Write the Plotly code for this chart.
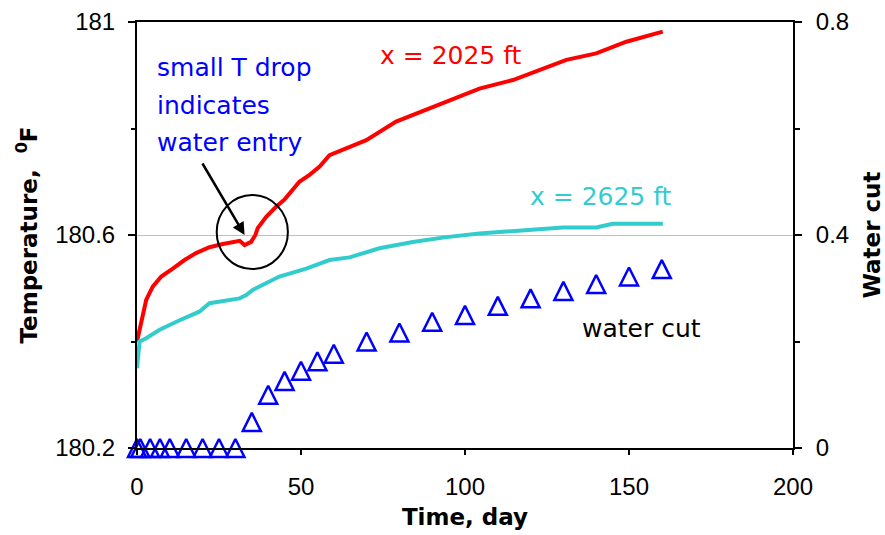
import plotly.graph_objects as go

# --- data -------------------------------------------------------------
red_day = [0, 1.3, 2.8, 4.8, 7.4, 10.9, 14.5, 18, 22.1, 26.2, 31.3, 32.8, 34.8,
           36.1, 36.8, 39.4, 42.4, 44.9, 47.5, 49.5, 52.6, 55.6, 58.7, 69.9, 79.0,
           90.2, 104.4, 114.6, 122.7, 130.9, 140.0, 149.2, 160.3]
red_temp = [180.400, 180.440, 180.478, 180.503, 180.522, 180.537, 180.553, 180.566,
            180.577, 180.583, 180.589, 180.581, 180.587, 180.600, 180.613, 180.634,
            180.653, 180.666, 180.686, 180.700, 180.713, 180.728, 180.750, 180.778,
            180.813, 180.841, 180.875, 180.891, 180.910, 180.929, 180.941, 180.963,
            180.982]

teal_day = [0, 0.8, 2.8, 6.9, 13, 19, 22.1, 28.2, 31.3, 33.3, 35.3, 43.4, 51.6,
            58.7, 64.8, 73.9, 84.1, 94.3, 104.4, 111.5, 129.8, 140, 145, 160.3]
teal_temp = [180.350, 180.400, 180.406, 180.422, 180.440, 180.456, 180.472, 180.478,
             180.481, 180.487, 180.497, 180.522, 180.537, 180.553, 180.558, 180.575,
             180.587, 180.596, 180.603, 180.606, 180.614, 180.614, 180.621, 180.621]

wc_day = [0, 1, 4, 7, 10, 15, 20, 25, 30, 35, 40, 45, 50, 55, 60, 70, 80, 90,
          100, 110, 120, 130, 140, 150, 160]
wc_val = [0, 0, 0, 0, 0, 0, 0, 0, 0, 0.049, 0.100, 0.126, 0.145, 0.163, 0.177,
          0.200, 0.217, 0.237, 0.250, 0.267, 0.281, 0.295, 0.308, 0.322, 0.336]

x_ticks = [0, 50, 100, 150, 200]
temp_ticks = [180.2, 180.6, 181]
temp_labels = ["180.2", "180.6", "181"]
temp_minor = [180.4, 180.8]
wc_ticks = [0, 0.4, 0.8]
wc_labels = ["0", "0.4", "0.8"]
wc_minor = [0.2, 0.6]

note_lines = ["small T drop", "indicates", "water entry"]

RED = "#FF0000"
TEAL = "#33CCCC"
BLUE = "#0000FF"
FONT = "Liberation Sans, Arial, sans-serif"
TXT = "DejaVu Sans, sans-serif"

fig = go.Figure()
fig.add_trace(go.Scatter(x=red_day, y=red_temp, mode="lines",
                         line=dict(color=RED, width=4), name="x = 2025 ft",
                         yaxis="y"))
fig.add_trace(go.Scatter(x=teal_day, y=teal_temp, mode="lines",
                         line=dict(color=TEAL, width=4), name="x = 2625 ft",
                         yaxis="y"))
msize = 18
fig.add_trace(go.Scatter(x=wc_day, y=wc_val, mode="markers", yaxis="y2",
                         name="water cut", cliponaxis=False,
                         marker=dict(symbol="arrow-down-open", angle=180,
                                     standoff=msize / 2, size=msize,
                                     color=BLUE, line=dict(color=BLUE, width=2.5))))

fig.update_layout(
    width=885, height=535,
    margin=dict(l=137, r=92, t=22, b=87),
    paper_bgcolor="white", plot_bgcolor="white",
    showlegend=False,
    font=dict(family=FONT, size=24, color="black"),
    xaxis=dict(range=[0, 200], tickvals=x_ticks, ticks="outside", ticklen=5,
               tickwidth=1.5, tickcolor="black", showline=True, linewidth=2,
               linecolor="black", mirror=True, showgrid=False, zeroline=False,
               ticklabelstandoff=11, automargin=False,
               title=dict(text="<b>Time, day</b>", standoff=10,
                          font=dict(family=TXT, size=23))),
    yaxis=dict(range=[180.2, 181], tickvals=temp_ticks, ticktext=temp_labels,
               ticks="outside", ticklen=7, tickwidth=1.5, tickcolor="black",
               minor=dict(tickvals=temp_minor, ticks="outside", ticklen=4,
                          tickcolor="black", showgrid=False),
               showline=True, linewidth=2, linecolor="black", showgrid=True,
               gridcolor="#C0C0C0", gridwidth=1, zeroline=False,
               ticklabelstandoff=8, automargin=False,
               title=dict(text="<b>Temperature,  <sup>0</sup>F</b>", standoff=11,
                          font=dict(family=TXT, size=23))),
    yaxis2=dict(range=[0, 0.8], tickvals=wc_ticks, ticktext=wc_labels,
                overlaying="y", side="right",
                ticks="outside", ticklen=7, tickwidth=1.5, tickcolor="black",
                minor=dict(tickvals=wc_minor, ticks="outside", ticklen=5,
                           tickcolor="black", showgrid=False),
                showline=True, linewidth=2, linecolor="black", showgrid=False,
                zeroline=False, ticklabelstandoff=9, automargin=False,
                title=dict(text="<b>Water cut</b>", standoff=16,
                           font=dict(family=TXT, size=23))),
)

fig.add_annotation(x=95.8, y=180.938, xref="x", yref="y", text="x = 2025 ft",
                   showarrow=False, font=dict(family=TXT, color=RED, size=25),
                   xanchor="center", yanchor="middle")
fig.add_annotation(x=141.6, y=180.672, xref="x", yref="y", text="x = 2625 ft",
                   showarrow=False, font=dict(family=TXT, color=TEAL, size=25),
                   xanchor="center", yanchor="middle")
fig.add_annotation(x=153.9, y=0.225, xref="x", yref="y2", text="water cut",
                   showarrow=False, font=dict(family=TXT, color="black", size=25),
                   xanchor="center", yanchor="middle")
# three-line blue note, 37.5 px line pitch as in the source figure
for i, line in enumerate(note_lines):
    fig.add_annotation(x=0.028, y=0.893 - i * 0.088, xref="paper", yref="paper",
                       text=line, showarrow=False, align="left",
                       font=dict(family=TXT, color=BLUE, size=25),
                       xanchor="left", yanchor="middle")
# arrow pointing to the temperature drop
fig.add_annotation(x=32.8, y=180.600, xref="x", yref="y", text="",
                   showarrow=True, ax=-43, ay=-73, arrowhead=2, arrowsize=1,
                   arrowwidth=2.5, arrowcolor="black")
# circle around the drop
fig.add_shape(type="circle", xref="x", yref="y", x0=24.3, x1=46.0,
              y0=180.536, y1=180.675, line=dict(color="black", width=2))

fig.write_html("out.html")
